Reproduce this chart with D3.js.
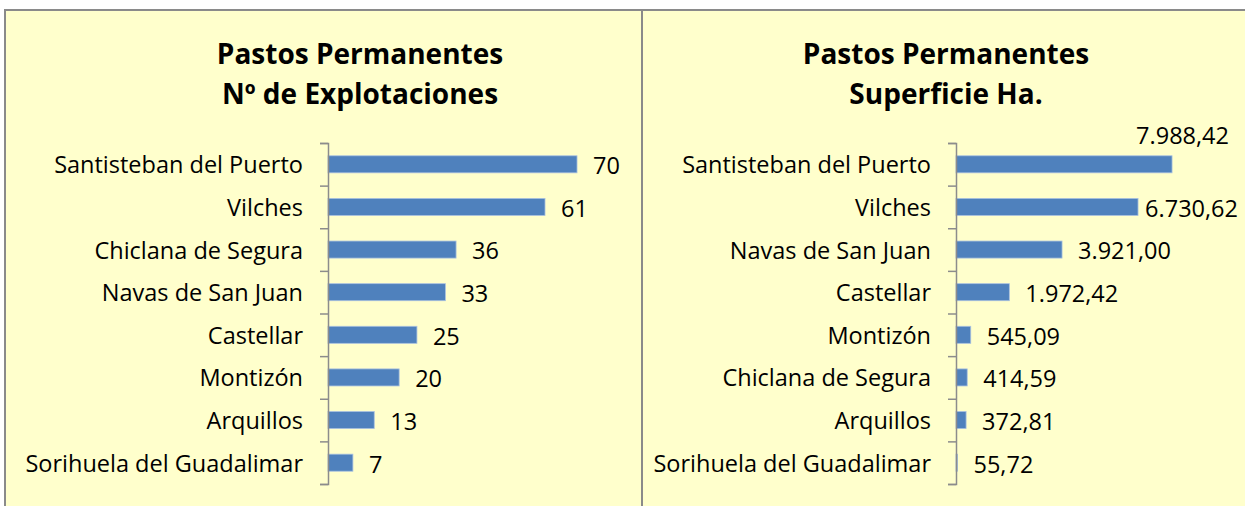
<!DOCTYPE html>
<html>
<head>
<meta charset="utf-8">
<script src="https://cdn.jsdelivr.net/npm/d3@7"></script>
<style>
    body { margin: 0; background: #ffffff; }
    text { font-family: "Open Sans", "DejaVu Sans", sans-serif; fill: #000; }
    .tick text { font-size: 23.5px; }
</style>
</head>
<body>
<div id="chart"></div>
<script>

// data
let leftTitle = ["Pastos Permanentes", "Nº de Explotaciones"];
let leftCategories = ["Santisteban del Puerto", "Vilches", "Chiclana de Segura", "Navas de San Juan",
    "Castellar", "Montizón", "Arquillos", "Sorihuela del Guadalimar"];
let leftValues = [70, 61, 36, 33, 25, 20, 13, 7];

let rightTitle = ["Pastos Permanentes", "Superficie Ha."];
let rightCategories = ["Santisteban del Puerto", "Vilches", "Navas de San Juan", "Castellar",
    "Montizón", "Chiclana de Segura", "Arquillos", "Sorihuela del Guadalimar"];
let rightValues = [7988.42, 6730.62, 3921.00, 1972.42, 545.09, 414.59, 372.81, 55.72];

let width = 1245;
let height = 506;

let esLocale = d3.formatLocale({decimal: ",", thousands: ".", grouping: [3], currency: ["", "€"]});

let svg = d3.select("#chart")
    .append("svg")
    .attr("width", width)
    .attr("height", height);

// yellow sheet with grey frame
svg.append("rect")
    .attr("x", 5)
    .attr("y", 10)
    .attr("width", width + 10)
    .attr("height", height + 10)
    .attr("fill", "#ffffcc")
    .attr("stroke", "#8a8a8a")
    .attr("stroke-width", 2);

svg.append("line")
    .attr("x1", 642).attr("x2", 642)
    .attr("y1", 10).attr("y2", height)
    .attr("stroke", "#8a8a8a")
    .attr("stroke-width", 2);

function drawPanel(opts) {
    let g = svg.append("g");

    // title
    g.append("text")
        .attr("x", opts.titleX)
        .attr("text-anchor", "middle")
        .style("font-weight", "bold")
        .style("font-size", "28px")
        .selectAll("tspan")
        .data(opts.title)
        .join("tspan")
        .attr("x", opts.titleX)
        .attr("y", (d, i) => 64 + i * 40)
        .text(d => d);

    let yBand = d3.scaleBand()
        .domain(opts.categories)
        .range([143, 484])
        .paddingInner(0.6)
        .paddingOuter(0.3);

    let yEdge = d3.scaleLinear()
        .domain([0, opts.categories.length])
        .range([143, 484]);

    let x = d3.scaleLinear()
        .domain([0, opts.max])
        .range([opts.left, opts.right]);

    // category labels
    g.append("g")
        .attr("transform", "translate(" + opts.left + ",0)")
        .call(d3.axisLeft(yBand).tickSize(0).tickPadding(25))
        .call(s => s.select(".domain").remove())
        .selectAll("text")
        .attr("dy", "0.38em");

    // bars
    g.selectAll(".bar")
        .data(opts.values)
        .join("rect")
        .attr("class", "bar")
        .attr("x", x(0))
        .attr("y", (d, i) => yBand(opts.categories[i]))
        .attr("width", d => x(d) - x(0))
        .attr("height", yBand.bandwidth())
        .attr("fill", "#4f81bd")
        .attr("stroke", "#a9c1e0")
        .attr("stroke-width", 0.8);

    // axis line with ticks between categories
    g.append("g")
        .attr("transform", "translate(" + opts.left + ",0)")
        .call(d3.axisLeft(yEdge).ticks(opts.categories.length).tickFormat("").tickSize(8).tickSizeOuter(8))
        .call(s => s.selectAll("line, path").attr("stroke", "#8c8c8c").attr("stroke-width", 1.5));

    // value labels, kept inside the panel like Excel does
    let labels = g.selectAll(".val")
        .data(opts.values)
        .join("text")
        .attr("class", "val")
        .style("font-size", "23.5px")
        .text(d => opts.format(d))
        .attr("x", d => x(d) + 16)
        .attr("y", (d, i) => yBand(opts.categories[i]) + yBand.bandwidth() / 2)
        .attr("dy", "0.42em");

    labels.each(function (d) {
        let t = d3.select(this);
        let w = this.getComputedTextLength();
        let lx = x(d) + 16;
        if (lx + w > opts.limit) {
            lx = opts.limit - w;
            if (lx < x(d) + 4) {
                // no room beside the bar: move it above
                lx = opts.limit - 9 - w;
                t.attr("y", +t.attr("y") - 30);
            }
        }
        t.attr("x", lx);
    });
}

drawPanel({
    title: leftTitle,
    titleX: 360,
    categories: leftCategories,
    values: leftValues,
    max: 80,
    left: 328,
    right: 612.6,
    limit: 636,
    format: d3.format("d")
});

drawPanel({
    title: rightTitle,
    titleX: 946,
    categories: rightCategories,
    values: rightValues,
    max: 9000,
    left: 956,
    right: 1199.4,
    limit: 1238,
    format: esLocale.format(",.2f")
});

</script>
</body>
</html>
